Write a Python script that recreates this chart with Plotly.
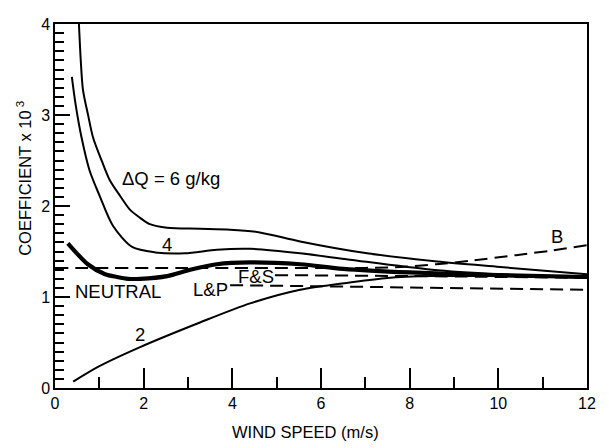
import plotly.graph_objects as go

# ---- data ----
wind_dq6 = [0.54, 0.58, 0.63, 0.75, 0.86, 1.06, 1.24, 1.47, 1.69, 1.92, 2.14, 2.53, 3.27, 3.95, 4.62, 5.53, 7.04, 8.62, 10.04, 12.0]
coef_dq6 = [4.00, 3.61, 3.28, 2.99, 2.75, 2.49, 2.28, 2.11, 1.96, 1.87, 1.80, 1.76, 1.75, 1.74, 1.71, 1.61, 1.48, 1.39, 1.33, 1.25]

wind_dq4 = [0.38, 0.47, 0.60, 0.78, 1.00, 1.31, 1.74, 2.26, 2.93, 3.65, 4.40, 5.53, 6.65, 8.50, 10.0, 12.0]
coef_dq4 = [3.42, 3.10, 2.75, 2.39, 2.12, 1.78, 1.55, 1.49, 1.48, 1.52, 1.53, 1.48, 1.41, 1.30, 1.25, 1.21]

wind_neutral = [0.29, 0.74, 1.13, 1.40, 1.65, 1.92, 2.53, 3.05, 3.65, 4.40, 5.53, 6.50, 8.0, 10.0, 12.0]
coef_neutral = [1.59, 1.36, 1.25, 1.22, 1.20, 1.20, 1.23, 1.30, 1.36, 1.38, 1.36, 1.31, 1.27, 1.24, 1.22]

wind_dq2 = [0.41, 1.00, 1.92, 3.27, 4.40, 5.53, 6.65, 7.50, 8.50, 10.0, 12.0]
coef_dq2 = [0.07, 0.24, 0.45, 0.72, 0.93, 1.08, 1.16, 1.21, 1.23, 1.23, 1.22]

wind_b = [0.0, 4.0, 7.0, 7.8, 8.6, 9.4, 10.4, 11.2, 12.0]
coef_b = [1.32, 1.32, 1.32, 1.33, 1.36, 1.40, 1.46, 1.51, 1.57]

wind_fs = [4.96, 8.0, 12.0]
coef_fs = [1.24, 1.23, 1.21]

wind_lp = [3.95, 12.0]
coef_lp = [1.13, 1.08]

x_ticks = [0, 2, 4, 6, 8, 10, 12]
y_ticks = [0, 1, 2, 3, 4]

FONT = "Liberation Sans, Arial, Helvetica, sans-serif"

fig = go.Figure()

def add_line(x, y, width, dash="solid", shape="spline"):
    fig.add_trace(go.Scatter(
        x=x, y=y, mode="lines",
        line=dict(color="black", width=width, dash=dash, shape=shape, smoothing=0.8),
        hoverinfo="skip", showlegend=False, cliponaxis=True,
    ))

add_line(wind_b, coef_b, 2, dash="13px,7px")
add_line(wind_lp, coef_lp, 2, dash="13px,7px", shape="linear")
add_line(wind_fs, coef_fs, 2, dash="13px,7px")
add_line(wind_dq6, coef_dq6, 2)
add_line(wind_dq4, coef_dq4, 2)
add_line(wind_dq2, coef_dq2, 2)
add_line(wind_neutral, coef_neutral, 4.2)

labels = [
    ("ΔQ = 6 g/kg", 2.62, 2.30),
    ("4", 2.53, 1.58),
    ("NEUTRAL", 1.42, 1.06),
    ("L&P", 3.50, 1.08),
    ("F&S", 4.53, 1.22),
    ("2", 1.92, 0.59),
    ("B", 11.33, 1.66),
]
for text, lx, ly in labels:
    fig.add_annotation(x=lx, y=ly, text=text, showarrow=False,
                       xanchor="center", yanchor="middle",
                       font=dict(family=FONT, size=18.5, color="black"))

# axis titles
fig.add_annotation(xref="paper", yref="paper", x=0.47, y=-0.121,
                   text="WIND SPEED (m/s)", showarrow=False,
                   xanchor="center", yanchor="middle",
                   font=dict(family=FONT, size=16.5, color="black"))
fig.add_annotation(xref="paper", yref="paper", x=-0.058, y=0.575,
                   text="COEFFICIENT x 10<sup> 3</sup>", showarrow=False,
                   textangle=-90, xanchor="center", yanchor="middle",
                   font=dict(family=FONT, size=16.5, color="black"))

# the page body has an 8px margin, so the figure is 8px smaller than the window
fig.update_layout(
    width=601, height=440,
    margin=dict(l=47, r=22, t=8, b=60),
    paper_bgcolor="white", plot_bgcolor="white",
    font=dict(family=FONT, color="black"),
    xaxis=dict(
        range=[0, 12], tickvals=x_ticks, ticktext=[str(v) for v in x_ticks],
        ticks="inside", ticklen=20, tickwidth=1.5, tickcolor="black",
        showline=True, linecolor="black", linewidth=1.5, mirror=True,
        showgrid=False, zeroline=False,
        tickfont=dict(family=FONT, size=16, color="black"),
        minor=dict(dtick=1, tick0=0, ticks="inside", ticklen=11, tickwidth=1.5,
                   tickcolor="black", showgrid=False),
    ),
    yaxis=dict(
        range=[0, 4], tickvals=y_ticks, ticktext=[str(v) for v in y_ticks],
        ticks="inside", ticklen=15, tickwidth=1.5, tickcolor="black",
        showline=True, linecolor="black", linewidth=1.5, mirror=True,
        showgrid=False, zeroline=False,
        tickfont=dict(family=FONT, size=16, color="black"),
        minor=dict(dtick=0.1, tick0=0, ticks="inside", ticklen=9, tickwidth=1.5,
                   tickcolor="black", showgrid=False),
    ),
)

fig.write_html("out.html")
